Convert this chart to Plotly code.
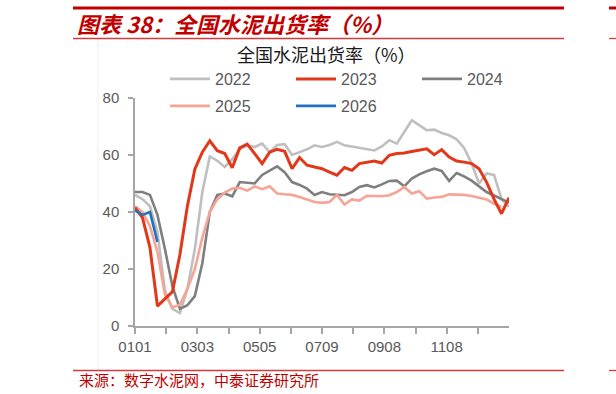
import plotly.graph_objects as go

# ---------------- data ----------------
tick_labels = ["0101", "", "0303", "", "0505", "", "0709", "", "0908", "", "1108", ""]
n_ticks = 12
n_points = 51  # weekly observations per year (index 0..50)

y2022 = [46, 44.5, 42, 33, 12.5, 6, 4.5, 13, 27, 47, 59.5, 58, 55.8, 58.5, 62, 63.4, 62.8, 64, 61, 63.5,
         63.8, 60, 61, 62, 63.4, 62.8, 63.5, 64.6, 63.4, 63, 62.5, 62, 61.6, 63, 65.2, 64, 68.1, 72.2, 70.5, 68.7,
         68.9, 67.7, 66.9, 65.5, 62.5, 57, 50, 53.5, 53, 44.5, 41.8]
y2023 = [41.5, 38, 27.5, 7, 9.5, 12, 25, 42, 55, 61, 65, 61.5, 60.5, 55.5, 62.5, 63.8, 60.5, 57, 61, 62,
         61.3, 55.2, 59.1, 56.4, 55.8, 55.2, 54, 52.9, 55.6, 54.6, 57, 57.4, 57.9, 57.2, 59.9, 60.5, 60.7, 61.2,
         61.8, 62.2, 60.1, 61.9, 59.3, 57.9, 57.5, 57, 55.2, 50.5, 44.5, 39.4, 45]
y2024 = [47, 47, 46, 39, 27, 14, 6, 7.3, 10.5, 22, 40, 46, 46.5, 45.5, 50.5, 50.3, 50, 53, 54.5, 56,
         54, 50.5, 49.5, 48.2, 46, 47, 46.2, 46, 45.9, 47, 48.8, 49.4, 48.6, 49.7, 50.9, 51, 49, 51.7, 53.2, 54.3,
         55.2, 54.4, 50.9, 53.7, 52.5, 51, 49, 47, 45.8, 44.5, 43.3]
y2025 = [42, 40, 35, 26, 11, 6.5, 7.5, 13, 20, 31, 40, 44.5, 46.8, 48.2, 48.5, 47.5, 49, 48, 49, 46.5,
         46.2, 46, 45.3, 44.5, 43.5, 43.2, 43.5, 46, 42.6, 44.4, 44, 45.7, 45.6, 45.5, 45.9, 47, 48.8, 46.5, 47.3,
         44.7, 45.1, 45.3, 46.2, 46.2, 46, 45.6, 45, 44.4, 42.9, 41.8]
y2026 = [40.5, 39, 40, 29.5]

series = [
    ("2022", y2022, "#BFBFBF", 2.6, "legend", 1),
    ("2024", y2024, "#7F7F7F", 2.6, "legend", 3),
    ("2025", y2025, "#F7A396", 2.6, "legend2", 1),
    ("2023", y2023, "#E2381A", 3.0, "legend", 2),
    ("2026", y2026, "#1F72C0", 2.6, "legend2", 2),
]

W, H = 616, 394
ML, MR, MT, MB = 135, 107, 98, 68
PW, PH = W - ML - MR, H - MT - MB


def px(x):
    return (x - ML) / PW


def py(y):
    return (H - MB - y) / PH


fig = go.Figure()
for name, vals, color, width, leg, rank in series:
    fig.add_trace(go.Scatter(
        x=list(range(len(vals))), y=vals, mode="lines", name=name,
        line=dict(color=color, width=width), legend=leg, legendrank=rank,
    ))

TICKFONT = dict(family="Liberation Sans, Arial, sans-serif", size=15, color="#595959")
AXCOL = "#A6A6A6"
LEGFONT = dict(family="Liberation Sans, Arial, sans-serif", size=16, color="#595959")

fig.update_layout(
    width=W, height=H,
    margin=dict(l=ML, r=MR, t=MT, b=MB, pad=0),
    paper_bgcolor="white", plot_bgcolor="white",
    showlegend=True,
    legend=dict(orientation="h", x=px(165), y=py(79), xanchor="left", yanchor="middle",
                itemwidth=40, entrywidth=71, entrywidthmode="pixels", bgcolor="rgba(0,0,0,0)",
                font=LEGFONT, traceorder="normal"),
    legend2=dict(orientation="h", x=px(165), y=py(106), xanchor="left", yanchor="middle",
                 itemwidth=40, entrywidth=71, entrywidthmode="pixels", bgcolor="rgba(0,0,0,0)",
                 font=LEGFONT, traceorder="normal"),
    xaxis=dict(range=[0, n_points - 1], showgrid=False, zeroline=False,
               showline=True, linecolor=AXCOL, linewidth=1.5,
               ticks="outside", ticklen=6, tickcolor=AXCOL, tickwidth=1.5,
               tickmode="array",
               tickvals=[k * (n_points - 1) / n_ticks for k in range(n_ticks)],
               ticktext=tick_labels, tickfont=TICKFONT, ticklabelstandoff=0),
    yaxis=dict(range=[0, 80], showgrid=False, zeroline=False,
               showline=True, linecolor=AXCOL, linewidth=1.5,
               ticks="outside", ticklen=5, tickcolor=AXCOL, tickwidth=1.5,
               tickmode="array", tickvals=[0, 20, 40, 60, 80],
               tickfont=TICKFONT, ticklabelstandoff=6),
)

RED = "#C00000"
shapes = []
for (x0, x1) in [(73, 564), (609, 616)]:
    shapes.append(dict(type="line", xref="paper", yref="paper", x0=px(x0), x1=px(x1), y0=py(8), y1=py(8),
                       line=dict(color=RED, width=3)))
    shapes.append(dict(type="line", xref="paper", yref="paper", x0=px(x0), x1=px(x1), y0=py(38.5), y1=py(38.5),
                       line=dict(color="#D23C3C", width=1.3)))
    shapes.append(dict(type="line", xref="paper", yref="paper", x0=px(x0), x1=px(x1), y0=py(370.5), y1=py(370.5),
                       line=dict(color="#D23C3C", width=1.3)))
shapes.append(dict(type="line", xref="paper", yref="paper", x0=px(98), x1=px(98), y0=py(40), y1=py(369),
                   line=dict(color="#F0F0F0", width=1)))
fig.update_layout(shapes=shapes)

fig.add_annotation(xref="paper", yref="paper", x=px(75), y=py(23), xanchor="left", yanchor="middle",
                   text="<b><i>图表 38：全国水泥出货率（%）</i></b>", showarrow=False,
                   font=dict(family="Noto Sans CJK SC", size=22, color=RED))
fig.add_annotation(xref="paper", yref="paper", x=px(326), y=py(54), xanchor="center", yanchor="middle",
                   text="全国水泥出货率（%）", showarrow=False,
                   font=dict(family="Noto Sans CJK SC", size=18, color="#1A1A1A"))
fig.add_annotation(xref="paper", yref="paper", x=px(77), y=py(379), xanchor="left", yanchor="middle",
                   text="来源：数字水泥网，中泰证券研究所", showarrow=False,
                   font=dict(family="Noto Sans CJK SC", size=15, color=RED))

fig.write_html("out.html")
